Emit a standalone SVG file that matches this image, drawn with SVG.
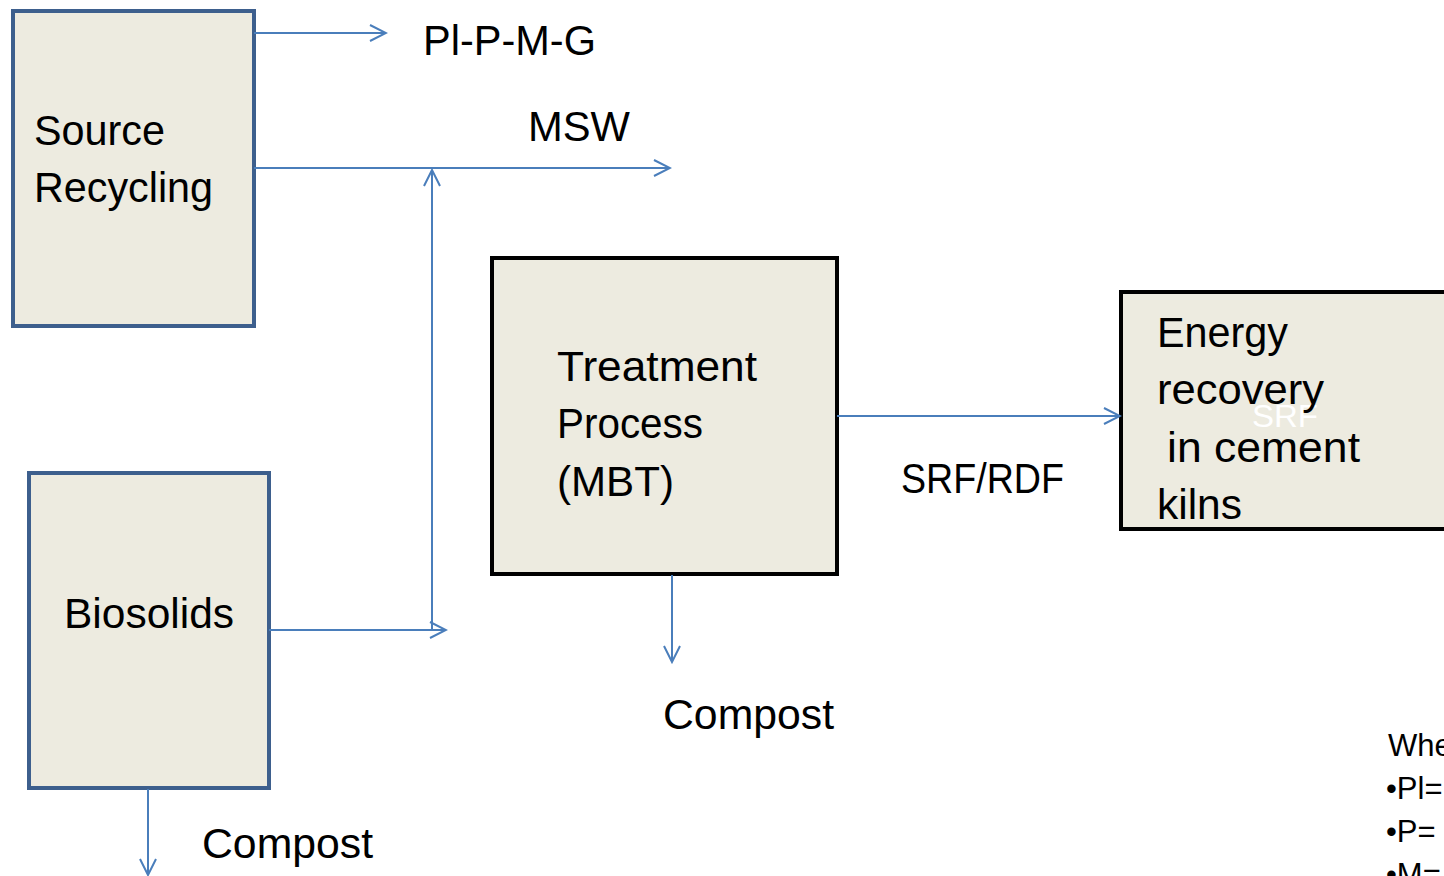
<svg xmlns="http://www.w3.org/2000/svg" width="1444" height="876" viewBox="0 0 1444 876">
<style>
.t{font-family:"Liberation Sans",Arial,sans-serif;font-size:42px;fill:#000}
.s{font-family:"Liberation Sans",Arial,sans-serif;font-size:31px;fill:#000}
.bb{fill:#edebe0;stroke:#3d5f8d;stroke-width:4}
.kb{fill:#edebe0;stroke:#000;stroke-width:4}
.c{stroke:#4a7ebb;stroke-width:2;fill:none}
</style>
<defs>
<marker id="a" viewBox="0 0 20 20" refX="18" refY="10" markerWidth="20" markerHeight="20" markerUnits="userSpaceOnUse" orient="auto">
<path d="M2,2 L18,10 L2,18" fill="none" stroke="#4a7ebb" stroke-width="2"/>
</marker>
</defs>
<g id="source">
<rect class="bb" x="13" y="11" width="241" height="315"/>
<text class="t" x="34" y="145" textLength="131" lengthAdjust="spacingAndGlyphs">Source</text>
<text class="t" x="34" y="202" textLength="179" lengthAdjust="spacingAndGlyphs">Recycling</text>
</g>
<g id="biosolids">
<rect class="bb" x="29" y="473" width="240" height="315"/>
<text class="t" x="64" y="628" textLength="170" lengthAdjust="spacingAndGlyphs">Biosolids</text>
</g>
<g id="treatment">
<rect class="kb" x="492" y="258" width="345" height="316"/>
<text class="t" x="557" y="381" textLength="200" lengthAdjust="spacingAndGlyphs">Treatment</text>
<text class="t" x="557" y="438" textLength="146" lengthAdjust="spacingAndGlyphs">Process</text>
<text class="t" x="557" y="496" textLength="117" lengthAdjust="spacingAndGlyphs">(MBT)</text>
</g>
<g id="energy">
<rect class="kb" x="1121" y="292" width="330" height="237"/>
<text x="1252" y="427" style="font-family:'Liberation Sans',Arial,sans-serif;font-size:31px;fill:#fff" textLength="66" lengthAdjust="spacingAndGlyphs">SRF</text>
<text class="t" x="1157" y="347" textLength="131" lengthAdjust="spacingAndGlyphs">Energy</text>
<text class="t" x="1157" y="404" textLength="167" lengthAdjust="spacingAndGlyphs">recovery</text>
<text class="t" x="1167" y="462" textLength="193" lengthAdjust="spacingAndGlyphs">in cement</text>
<text class="t" x="1157" y="519" textLength="85" lengthAdjust="spacingAndGlyphs">kilns</text>
</g>
<g id="connectors">
<line class="c" x1="254" y1="33" x2="386" y2="33" marker-end="url(#a)"/>
<line class="c" x1="254" y1="168" x2="670" y2="168" marker-end="url(#a)"/>
<line class="c" x1="432" y1="630" x2="432" y2="170" marker-end="url(#a)"/>
<line class="c" x1="269" y1="630" x2="446" y2="630" marker-end="url(#a)"/>
<line class="c" x1="672" y1="575" x2="672" y2="662" marker-end="url(#a)"/>
<line class="c" x1="837" y1="416" x2="1120" y2="416" marker-end="url(#a)"/>
<line class="c" x1="148" y1="789" x2="148" y2="875" marker-end="url(#a)"/>
</g>
<g id="labels">
<text class="t" x="423" y="55" textLength="173" lengthAdjust="spacingAndGlyphs">Pl-P-M-G</text>
<text class="t" x="528" y="141" textLength="102" lengthAdjust="spacingAndGlyphs">MSW</text>
<text class="t" x="901" y="493" textLength="163" lengthAdjust="spacingAndGlyphs">SRF/RDF</text>
<text class="t" x="663" y="729" textLength="171" lengthAdjust="spacingAndGlyphs">Compost</text>
<text class="t" x="202" y="858" textLength="171" lengthAdjust="spacingAndGlyphs">Compost</text>
</g>
<g id="legend">
<text class="s" x="1388" y="756">Where:</text>
<text class="s" x="1386" y="799">•Pl=</text>
<text class="s" x="1386" y="842">•P=</text>
<text class="s" x="1386" y="885">•M=</text>
</g>
</svg>
